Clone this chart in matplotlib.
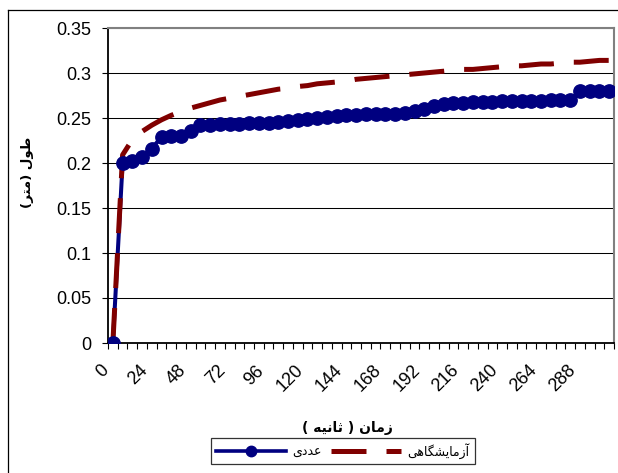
import matplotlib
matplotlib.use("Agg")
import matplotlib.pyplot as plt
from matplotlib.lines import Line2D
from matplotlib.transforms import ScaledTranslation

# Time categories (seconds), one every 6 s
times = list(range(0, 312, 6))

# Numerical model result (length, m)
numerical = [
    0.000, 0.200, 0.202, 0.207, 0.216, 0.229, 0.230, 0.230, 0.236, 0.242,
    0.242, 0.243, 0.243, 0.243, 0.244, 0.244, 0.245, 0.246, 0.247, 0.248,
    0.249, 0.250, 0.251, 0.252, 0.253, 0.253, 0.254, 0.254, 0.254, 0.254,
    0.256, 0.258, 0.260, 0.263, 0.266, 0.267, 0.267, 0.268, 0.268, 0.268,
    0.269, 0.269, 0.269, 0.269, 0.269, 0.270, 0.270, 0.270, 0.280, 0.280,
    0.280, 0.280,
]

# Laboratory measurement (length, m)
laboratory = [
    0.000, 0.209, 0.226, 0.235, 0.242, 0.248, 0.253, 0.257, 0.261, 0.264,
    0.267, 0.270, 0.272, 0.274, 0.276, 0.278, 0.280, 0.282, 0.283, 0.285,
    0.286, 0.288, 0.289, 0.290, 0.291, 0.293, 0.294, 0.295, 0.296, 0.297,
    0.298, 0.299, 0.300, 0.301, 0.302, 0.303, 0.304, 0.304, 0.305, 0.306,
    0.307, 0.308, 0.308, 0.309, 0.310, 0.310, 0.311, 0.312, 0.312, 0.313,
    0.314, 0.314,
]

y_ticks = [0, 0.05, 0.1, 0.15, 0.2, 0.25, 0.3, 0.35]
y_tick_labels = ["0", "0.05", "0.1", "0.15", "0.2", "0.25", "0.3", "0.35"]
label_every = 4

# Persian labels written in visual (shaped, left-to-right) order
x_title = "( \uFEEA\uFEF4\uFEE7\uFE8E\uFE9B ) \uFEE5\uFE8E\uFEE3\uFEAF"      # زمان ( ثانیه )
y_title = "(\uFEAE\uFE98\uFEE3) \uFEDD\uFEEE\uFEC3"                          # طول (متر)
name_numerical = "\u06CC\uFEA9\uFEAA\uFECB"                                   # عددی
name_laboratory = ("\uFEF0\uFEEB\uFE8E\uFB95\uFEB8\uFEF3"
                   "\uFE8E\uFEE3\uFEAF\uFE81")                                # آزمایشگاهی

NAVY = "#000080"
MAROON = "#800000"

W, H = 618, 473
fig = plt.figure(figsize=(W / 100, H / 100), dpi=100)
plt.rcParams["font.family"] = ["Liberation Sans", "DejaVu Sans"]

left, right, top, bottom = 108, 614, 28, 343
ax = fig.add_axes([left / W, 1 - bottom / H, (right - left) / W, (bottom - top) / H])

x = list(range(len(times)))

ax.plot(x, numerical, color=NAVY, lw=2.9, zorder=3, solid_capstyle="round")
ax.plot(x, laboratory, color=MAROON, lw=3.6, dashes=(7, 4), zorder=4)
ax.plot(x, numerical, ls="none", marker="o", ms=9.6, color=NAVY, zorder=5)

ax.set_xlim(-0.5, len(times) - 0.5)
ax.set_ylim(0, 0.35)

# y axis
ax.set_yticks(y_ticks)
ax.set_yticklabels(y_tick_labels)
ax.tick_params(axis="y", direction="out", length=4.3, width=0.8, pad=7.5,
               labelsize=13, color="black")
ax.yaxis.grid(True, color="black", lw=0.75)
ax.set_axisbelow(True)

# x axis: tick marks between categories, labels on every 4th category
ax.set_xticks([i - 0.5 for i in range(len(times) + 1)])
ax.set_xticklabels([])
ax.tick_params(axis="x", which="major", direction="out", length=4.3, width=0.8,
               color="black")
label_pos = x[::label_every]
ax.set_xticks(label_pos, minor=True)
ax.set_xticklabels([str(times[i]) for i in label_pos], minor=True,
                   rotation=45, ha="right", va="center", rotation_mode="anchor",
                   fontsize=13)
ax.tick_params(axis="x", which="minor", length=0, pad=18)
shift = ScaledTranslation(-7 / 100, 0, fig.dpi_scale_trans)
for lab in ax.get_xticklabels(minor=True):
    lab.set_transform(lab.get_transform() + shift)

for side in ("left", "bottom"):
    ax.spines[side].set_color("black")
    ax.spines[side].set_linewidth(1.3)
for side in ("top", "right"):
    ax.spines[side].set_color("#808080")
    ax.spines[side].set_linewidth(1.5)

# axis titles
fig.text(347 / W, 1 - 428 / H, x_title, family="DejaVu Sans", fontweight="bold",
         fontsize=10, ha="center", va="center")
fig.text(27 / W, 1 - 172 / H, y_title, family="DejaVu Sans", fontweight="bold",
         fontsize=9.5, ha="center", va="center", rotation=90)

# legend
handles = [
    Line2D([], [], color=NAVY, lw=2.6, marker="o", ms=7.5),
    Line2D([], [], color=MAROON, lw=3.6, dashes=(7, 4)),
]
leg = fig.legend(handles, [name_numerical, name_laboratory], ncol=2,
                 loc="center", bbox_to_anchor=(342.5 / W, 1 - 451 / H),
                 prop={"family": "DejaVu Sans", "size": 9},
                 frameon=True, fancybox=False, shadow=False, numpoints=1,
                 handlelength=5.6, handletextpad=0.5, columnspacing=0.8,
                 borderpad=0.4, borderaxespad=0)
leg.get_frame().set_edgecolor("black")
leg.get_frame().set_linewidth(0.9)

# chart border (left and top edges)
fig.add_artist(Line2D([8 / W, 8 / W], [0, 1 - 10 / H], color="black", lw=0.9,
                      transform=fig.transFigure))
fig.add_artist(Line2D([8 / W, 1], [1 - 10 / H, 1 - 10 / H], color="black", lw=0.9,
                      transform=fig.transFigure))

fig.savefig("out.png", dpi=100)
